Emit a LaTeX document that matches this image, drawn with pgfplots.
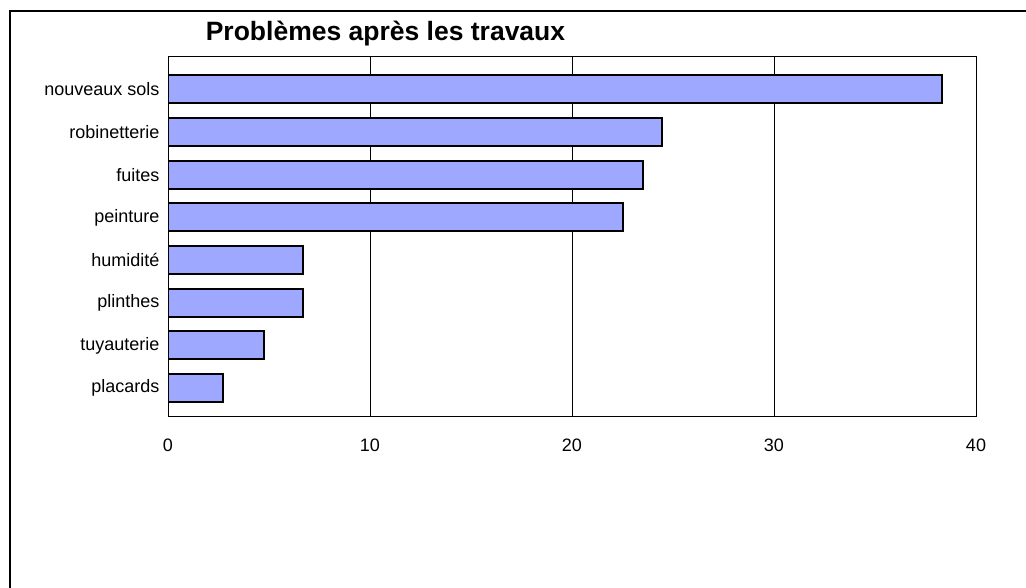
\documentclass[border=0pt]{standalone}
\usepackage{fontspec}
\setmainfont{Liberation Sans}
\usepackage{pgfplots}
\pgfplotsset{compat=1.18}
\definecolor{barfill}{RGB}{158,168,255}
\begin{document}
\begin{tikzpicture}[x=1pt,y=1pt]
\useasboundingbox (0,0) rectangle (1026,588);
\fill[white] (0,0) rectangle (1026,588);
\draw[line width=2.5pt] (10,-10) -- (10,577) -- (1040,577);
\node[font=\bfseries\fontsize{26.5}{28}\selectfont] at (385.5,554) {Problèmes après les travaux};
\begin{axis}[at={(168pt,172pt)}, anchor=south west, scale only axis,
  width=808pt, height=360pt, xmin=0, xmax=40, ymin=-0.656, ymax=7.785,
  xbar, bar width=28pt,
  xtick={0,10,20,30,40}, ytick={0,...,7},
  yticklabels={placards,tuyauterie,plinthes,humidité,peinture,fuites,robinetterie,nouveaux sols},
  major tick length=0pt,
  xmajorgrids, grid style={black, line width=0.6pt},
  axis line style={line width=0.8pt},
  tick label style={font=\fontsize{18}{20}\selectfont},
  xticklabel style={yshift=-19pt},
  yticklabel style={xshift=-5pt},
  /pgf/number format/assume math mode=true]
\addplot[draw=black, line width=2pt, fill=barfill] coordinates {(2.7,0) (4.75,1) (6.7,2) (6.7,3) (22.5,4) (23.5,5) (24.45,6) (38.3,7)};
\end{axis}
\end{tikzpicture}
\end{document}
